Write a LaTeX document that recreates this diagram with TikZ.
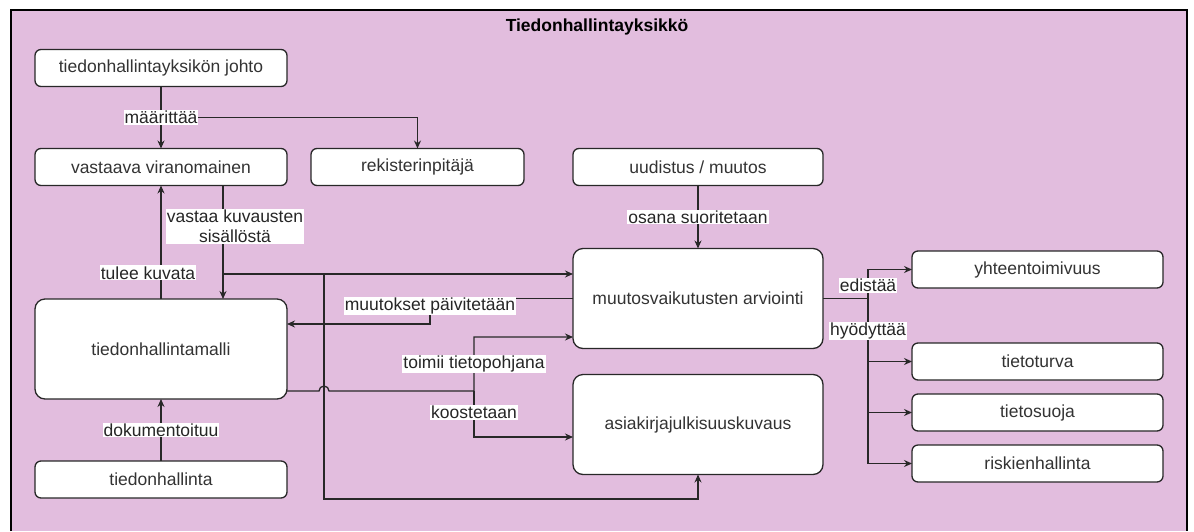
\documentclass[tikz,border=0pt]{standalone}
\usepackage{fontspec}
\setmainfont{Liberation Sans}
\usetikzlibrary{arrows.meta, positioning, calc}

\definecolor{unitpink}{RGB}{226,189,222}
\definecolor{edgegray}{RGB}{40,40,40}

\begin{document}
\begin{tikzpicture}[x=1pt, y=-1pt,
    unitbox/.style={draw=edgegray, fill=white, rounded corners=6pt, line width=1.3pt, minimum width=252pt, minimum height=37pt, outer sep=0pt, inner sep=2pt, text=black!80, font={\fontsize{17.5}{20}\selectfont}},
    bigbox/.style={unitbox, rounded corners=10pt, minimum height=100pt},
    lbl/.style={fill=white, inner sep=1pt, text=black!85, font={\fontsize{17.5}{20}\selectfont}},
    arr/.style={draw=edgegray, line width=1.3pt, -{Stealth[length=8pt, width=7pt]}}
]
\useasboundingbox (0,0) rectangle (1194,531);
\fill[white] (0,0) rectangle (1194,531);

% Unit frame, open at the bottom
\fill[unitpink] (11,10) rectangle (1187,531);
\draw[line width=1.3pt] (11,531) -- (11,10) -- (1187,10) -- (1187,531);
\node[font={\bfseries\fontsize{17.5}{20}\selectfont}] (title) at (597,27) {Tiedonhallintayksikkö};

% Left column
\node[unitbox] (johto) at (161,68) {tiedonhallintayksikön johto};
\node[unitbox, below=62pt of johto] (viran) {vastaava viranomainen};
\node[unitbox, minimum width=213pt, right=24pt of viran] (rekist) {rekisterinpitäjä};
\node[bigbox] (malli) at (161,349) {tiedonhallintamalli};
\node[unitbox, below=62pt of malli] (hallinta) {tiedonhallinta};

% Middle column
\node[unitbox, minimum width=250pt] (uudis) at (698,167) {uudistus / muutos};
\node[bigbox, minimum width=250pt, below=63pt of uudis] (arvio) {muutosvaikutusten arviointi};
\node[bigbox, minimum width=250pt, below=26pt of arvio] (julk) {asiakirjajulkisuuskuvaus};

% Right column
\node[unitbox, minimum width=251pt] (yhteen) at (1037.5,269.5) {yhteentoimivuus};
\node[unitbox, minimum width=251pt] (turva) at (1037.5,361.5) {tietoturva};
\node[unitbox, minimum width=251pt, below=14pt of turva] (suoja) {tietosuoja};
\node[unitbox, minimum width=251pt, below=14pt of suoja] (riski) {riskienhallinta};

% Bends and splits
\coordinate (vkTop) at ([xshift=62pt]viran.south);
\coordinate (vkBot) at ([xshift=62pt]malli.north);
\coordinate (vkSplit) at (223,274);
\coordinate (bus) at (324,274);
\coordinate (busEnd) at (324,499);
\coordinate (updTurn) at (430,324);
\coordinate (jump) at (319,391);
\coordinate (toimi) at (474,391);
\coordinate (arvioIn) at ([yshift=-38.5pt]arvio.west);
\coordinate (rbus) at ([xshift=45pt]arvio.east);

% Connections
\draw[arr] ($(johto.south)!0.5!(viran.north)$) -| (rekist.north);
\draw[arr] (johto) -- node[lbl]{määrittää} (viran);
\draw[arr] (malli.north) -- node[lbl, pos=0.23, xshift=-13pt]{tulee kuvata} (viran.south);
\draw[arr] (vkSplit) -- (vkSplit -| arvio.west);
\draw[arr] (bus) -- (busEnd) -| (julk.south);
\draw[arr] (vkTop) -- node[lbl, pos=0.36, xshift=12pt, align=center]{vastaa kuvausten\\sisällöstä} (vkBot);
\draw[arr] (arvio.west) -| node[lbl, pos=0.65]{muutokset päivitetään} (updTurn) -- (updTurn -| malli.east);
\draw[arr] ([yshift=-42pt]malli.east) -- (jump) arc[start angle=180, end angle=0, radius=5pt] -- (toimi) -- node[lbl]{toimii tietopohjana} (toimi |- arvioIn) -- (arvioIn);
\draw[arr] (toimi) |- node[lbl, pos=0.23]{koostetaan} ([yshift=-12.5pt]julk.west);
\draw[arr] (uudis) -- node[lbl]{osana suoritetaan} (arvio);
\draw[arr] (hallinta) -- node[lbl]{dokumentoituu} (malli);

\draw[arr] (rbus) |- (riski.west);
\draw[arr] (rbus) |- (suoja.west);
\draw[arr] (rbus) |- node[lbl, pos=0.26]{hyödyttää} (turva.west);
\draw[arr] (arvio.east) -- (rbus) |- node[lbl, pos=0.23]{edistää} (yhteen.west);
\end{tikzpicture}
\end{document}
